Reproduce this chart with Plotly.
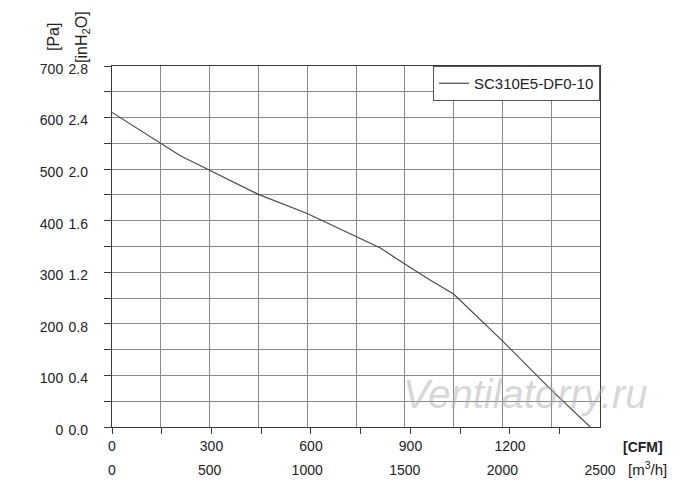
import plotly.graph_objects as go

# ---- data ----
flow_m3h = [0, 250, 350, 500, 750, 1000, 1250, 1375, 1500, 1625, 1750, 2000, 2250, 2450]
pressure_pa = [610, 550, 526, 498, 451, 414, 369, 347, 316, 286, 258, 167, 72, 0]
series_name = "SC310E5-DF0-10"

pa_ticks = [0, 100, 200, 300, 400, 500, 600, 700]
pa_labels = ["0", "100", "200", "300", "400", "500", "600", "700"]
inh2o_ticks = [0.0, 0.4, 0.8, 1.2, 1.6, 2.0, 2.4, 2.8]
inh2o_labels = ["0.0", "0.4", "0.8", "1.2", "1.6", "2.0", "2.4", "2.8"]
m3h_ticks = [0, 500, 1000, 1500, 2000, 2500]
m3h_labels = ["0", "500", "1000", "1500", "2000", "2500"]
cfm_ticks = [0, 300, 600, 900, 1200]
cfm_labels = ["0", "300", "600", "900", "1200"]
CFM_TO_M3H = 1.699

# ---- layout geometry (page body adds an 8px offset) ----
OFF = 8
W, H = 700 - OFF, 494 - OFF
L, R, T, B = 112, 600, 66, 427  # plot area in reference pixels


def px(x):
    return (x - L) / (R - L)


def py(y):
    return (B - y) / (B - T)


FONT = "Liberation Sans Narrow, Arial Narrow, Liberation Sans, Arial, sans-serif"
GRID = "#8a8a8a"
AX = "#3a3a3a"

fig = go.Figure()
fig.add_trace(go.Scatter(
    x=flow_m3h, y=pressure_pa, mode="lines", name=series_name,
    line=dict(color="#4a4a4a", width=1.2), showlegend=True,
))

fig.update_layout(
    width=W, height=H,
    margin=dict(l=L - OFF, r=700 - R, t=T - OFF, b=494 - B, autoexpand=False),
    paper_bgcolor="white", plot_bgcolor="white",
    font=dict(family=FONT, size=14, color="#222222"),
    showlegend=True,
    legend=dict(
        x=1, y=1, xanchor="right", yanchor="top",
        bgcolor="white", bordercolor="#555555", borderwidth=1,
        font=dict(size=15, color="#222222"),
        itemwidth=30, tracegroupgap=0,
    ),
    xaxis=dict(
        range=[0, 2500], showgrid=True, gridcolor=GRID, gridwidth=1,
        tickmode="array", tickvals=m3h_ticks, ticktext=m3h_labels,
        minor=dict(dtick=250, tick0=0, showgrid=True, gridcolor=GRID, gridwidth=1, ticks=""),
        ticks="", showline=True, linecolor=AX, mirror=True,
        ticklabelstandoff=30, zeroline=False,
        tickfont=dict(size=14),
    ),
    xaxis2=dict(
        range=[0, 2500 / CFM_TO_M3H], overlaying="x", anchor="y", side="bottom",
        tickmode="array", tickvals=cfm_ticks, ticktext=cfm_labels,
        minor=dict(dtick=150, tick0=0, ticks="outside", ticklen=6, tickcolor=AX, showgrid=False),
        ticks="outside", ticklen=6, tickcolor=AX, showgrid=False,
        zeroline=False, showline=False, tickfont=dict(size=14),
    ),
    yaxis=dict(
        range=[0, 700], showgrid=True, gridcolor=GRID, gridwidth=1,
        tickmode="array", tickvals=pa_ticks, ticktext=pa_labels,
        minor=dict(dtick=50, tick0=0, ticks="outside", ticklen=7, tickcolor=AX,
                   showgrid=True, gridcolor=GRID, gridwidth=1),
        ticks="outside", ticklen=7, tickcolor=AX,
        showline=True, linecolor=AX, mirror=True, zeroline=False,
        ticklabelstandoff=38, ticklabelshift=3,
        tickfont=dict(size=14),
    ),
    yaxis2=dict(
        range=[0, 2.8], overlaying="y", anchor="x", side="left",
        tickmode="array", tickvals=inh2o_ticks, ticktext=inh2o_labels,
        ticks="", showgrid=False, zeroline=False, showline=False,
        ticklabelstandoff=23, ticklabelshift=3,
        tickfont=dict(size=14),
    ),
)

# invisible helper traces so the secondary axes are drawn
fig.add_trace(go.Scatter(x=[0, 2500 / CFM_TO_M3H], y=[0, 700], xaxis="x2", yaxis="y",
                         mode="markers", marker=dict(opacity=0), showlegend=False,
                         hoverinfo="skip"))
fig.add_trace(go.Scatter(x=[0, 2500], y=[0, 2.8], xaxis="x", yaxis="y2",
                         mode="markers", marker=dict(opacity=0), showlegend=False,
                         hoverinfo="skip"))

ann = [
    dict(text="[Pa]", x=px(53), y=py(37), textangle=-90, font=dict(size=16)),
    dict(text="[inH<sub>2</sub>O]", x=px(82), y=py(37), textangle=-90, font=dict(size=16)),
    dict(text="<b>[CFM]</b>", x=px(643), y=py(447), font=dict(size=14)),
    dict(text="[m<sup>3</sup>/h]", x=px(647), y=py(468), font=dict(size=15)),
    dict(text="<i>Ventilatorry.ru</i>", x=px(525), y=py(394),
         font=dict(size=40, color="rgba(175,175,175,0.5)", family="Liberation Sans, Arial, sans-serif")),
]
for a in ann:
    a.update(xref="paper", yref="paper", showarrow=False, xanchor="center", yanchor="middle")
    fig.add_annotation(**a)

fig.write_html("out.html")
